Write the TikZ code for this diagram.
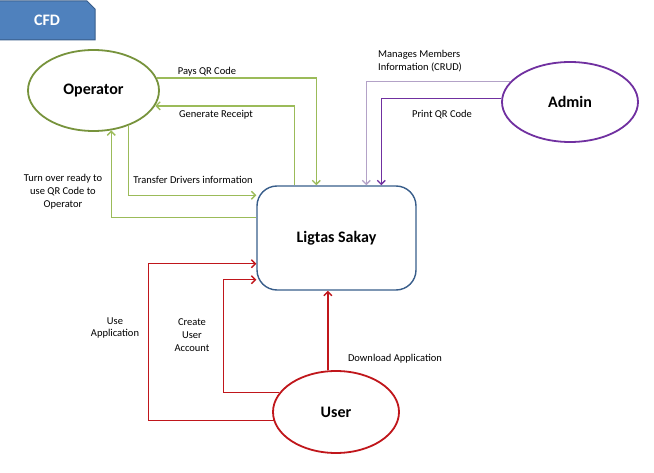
\documentclass[tikz,border=0pt]{standalone}
\usepackage{fontspec}
\setmainfont{Carlito}
\usetikzlibrary{shapes.geometric,arrows.meta}
\definecolor{olive}{HTML}{77933C}
\definecolor{lgreen}{HTML}{9BBB59}
\definecolor{purp}{HTML}{7030A0}
\definecolor{lpurp}{HTML}{B3A2C7}
\definecolor{dred}{HTML}{C0161B}
\definecolor{boxblue}{HTML}{385D8A}
\definecolor{tabblue}{HTML}{4F81BD}
\begin{document}
\begin{tikzpicture}[x=1pt,y=-1pt,
  ent/.style={ellipse, draw, line width=1.8pt, minimum width=130pt, minimum height=80pt, inner sep=0pt, fill=white, font=\fontsize{16}{18}\selectfont\bfseries},
  lbl/.style={font=\fontsize{10.5}{12.8}\selectfont, align=center, inner sep=0pt},
  flow/.style={line width=1.4pt, -{Straight Barb[length=4pt,width=8pt]}}]
\useasboundingbox (0,0) rectangle (654,473);
% CFD tab
\fill[tabblue, draw=boxblue, line width=1pt] (-2,1) -- (87,1) -- (95,9) -- (95,40) -- (-2,40) -- cycle;
\node[font=\fontsize{16}{18}\selectfont\bfseries, text=white] (cfd) at (47,20) {CFD};
% main process
\node[draw=boxblue, line width=1.4pt, rounded corners=20pt, minimum width=159pt, minimum height=104pt, inner sep=0pt, font=\fontsize{16}{18}\selectfont\bfseries] (box) at (336.5,238) {Ligtas Sakay};
% entities
\node[ent, draw=olive, minimum width=131pt, minimum height=81pt] (op) at (93.5,90.5) {Operator};
\node[ent, draw=purp, minimum width=136pt, minimum height=80pt] (ad) at (570,102) {Admin};
\node[ent, draw=dred, minimum width=126pt, minimum height=82pt] (us) at (336,412) {User};
% green flows
\draw[flow, lgreen] (op.11.5) -| ([xshift=60pt]box.north west);
\draw[flow, lgreen] ([xshift=38pt]box.north west) |- (op.-14.5);
\draw[flow, lgreen] (op.-45.7) |- ([yshift=-10pt]box.north west);
\draw[flow, lgreen] ([yshift=-32pt]box.north west) -| (op.-66.9);
% purple flows
\draw[flow, lpurp] (ad.161.2) -| ([xshift=110pt]box.north west);
\draw[flow, purp] (ad.177.5) -| ([xshift=125pt]box.north west);
% red flows
\draw[flow, dred] (us.101.1) -- (us.101.1 |- box.south);
\draw[flow, dred] (us.161.2) -| ([xshift=-33pt,yshift=11pt]box.south west) -- ([yshift=11pt]box.south west);
\draw[flow, dred] (us.188.3) -| ([xshift=-108pt,yshift=27pt]box.south west) -- ([yshift=27pt]box.south west);
% labels
\node[lbl] (l1) at (207,72) {Pays QR Code};
\node[lbl] (l2) at (216,115) {Generate Receipt};
\node[lbl] (l3) at (193,180) {Transfer Drivers information};
\node[lbl] (l4) at (63,192) {Turn over ready to\\use QR Code to\\Operator};
\node[lbl, align=left, anchor=west] (l5) at (378,61) {Manages Members\\Information (CRUD)};
\node[lbl] (l6) at (442,115) {Print QR Code};
\node[lbl] (l7) at (115,328) {Use\\Application};
\node[lbl] (l8) at (192,335) {Create\\User\\Account};
\node[lbl] (l9) at (395,359) {Download Application};
\end{tikzpicture}
\end{document}
